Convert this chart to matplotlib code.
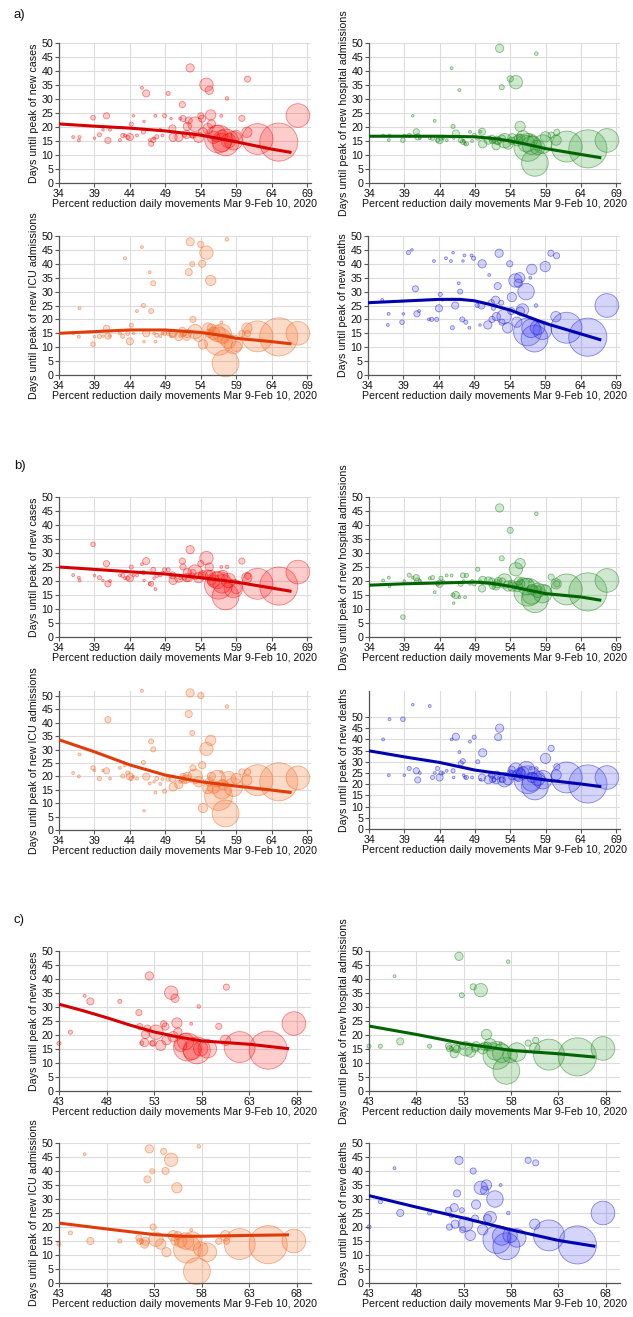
import numpy as np
import matplotlib
matplotlib.use("Agg")
import matplotlib.pyplot as plt

plt.rcParams['font.family'] = ['Liberation Sans', 'DejaVu Sans']

# ---------------- data (one entry per region) ----------------
region_x = [36.0, 36.8, 36.9, 38.8, 39.0, 39.7, 40.2, 40.7, 40.9, 41.2,
            42.6, 43.0, 43.3, 43.7, 44.0, 44.2, 44.5, 45.0, 45.7, 45.9,
            46.0, 46.3, 46.8, 47.0, 47.3, 47.6, 47.8, 48.3, 48.9, 49.4,
            49.8, 50.0, 50.1, 50.9, 51.1, 51.4, 51.5, 51.7, 52.0, 52.1,
            52.3, 52.5, 52.8, 52.9, 53.2, 53.7, 54.0, 54.2, 54.3, 54.8,
            55.0, 55.2, 55.4, 55.5, 55.8, 56.3, 56.5, 56.9, 57.5, 57.7,
            57.9, 58.6, 59.0, 59.8, 60.5, 60.6, 62.0, 65.0, 67.7, 57.0,
            57.1, 48.6, 47.4]
region_pop = [2, 2, 2, 5, 1.5, 4, 1.5, 9, 9, 2,
              2, 4, 2, 4, 12, 4, 1.5, 2, 2, 4,
              1.5, 12, 2, 6, 6, 2, 4, 2, 4, 4,
              1.5, 12, 16, 16, 2, 9, 9, 4, 16, 16,
              12, 16, 6, 9, 49, 25, 9, 12, 20, 42,
              25, 16, 25, 16, 36, 64, 182, 2, 169, 3,
              49, 81, 25, 9, 25, 9, 225, 342, 132, 81,
              25, 2, 1.5]
in_subset_c = [0, 0, 0, 0, 0, 0, 0, 0, 0, 0,
               0, 1, 0, 0, 0, 1, 0, 0, 1, 0,
               0, 1, 0, 0, 0, 0, 0, 0, 0, 1,
               0, 0, 0, 0, 0, 1, 1, 1, 1, 1,
               1, 1, 1, 1, 1, 1, 1, 1, 1, 1,
               1, 1, 1, 1, 1, 1, 1, 1, 1, 1,
               1, 1, 0, 1, 1, 1, 1, 1, 1, 1,
               0, 0, 0]

a_cases = [16.4, 15.2, 16.4, 23.3, 16, 17.2, 19, 24, 15.2, 19,
           15.3, 17, 17, 16.3, 16.4, 21, 24, 17, 34, 18.2,
           22, 32, 15.3, 14, 15.3, 24, 16.5, 19, 24, 32,
           23, 19.5, 16.3, 16.3, 23, 28, 23, 17.1, 17.3, 20.2,
           22.3, 41.1, 17, 17.1, 21, 16.3, 24, 23, 18.1, 35.1,
           19.4, 33.1, 24.3, 21.1, 16.3, 17.7, 15.7, 24, 14.5, 30.2,
           15.1, 15.1, 17, 23.1, 18.1, 37.1, 15.7, 14.6, 24.1, 14.5,
           17, 17, 16]
a_hosp = [17, 15.3, 17, 15.3, 17, 17, 24, 18.3, 16.5, 16,
          16, 16, 22.2, 15.3, 15.3, 16, 16, 15.3, 41, 20.2,
          16, 17.7, 33.2, 15.3, 14.7, 14, 14, 18.3, 17, 16,
          18.3, 18.3, 14, 15.3, 16, 16, 15.1, 15.1, 13.3, 15.3,
          15, 48.1, 34.2, 16, 15.1, 13.9, 37.2, 15.1, 16, 36,
          15.1, 16, 20.2, 16, 16.5, 14, 12.7, 17, 7.2, 46.2,
          12.7, 13.9, 16.5, 17.1, 15.3, 18.1, 13, 12.2, 15.2, 13.5,
          15, 15, 15]
a_icu = [15, 13.8, 24, 11.1, 13.8, 13.8, 14, 16.8, 14, 14,
         15, 13.9, 42, 15, 12.1, 17.9, 15, 23, 46, 25,
         12, 15, 37, 23, 33, 12, 14.3, 14, 15, 15,
         13.8, 15, 15, 13.8, 14, 16.1, 14.9, 14.9, 13.9, 14.9,
         37, 47.9, 39.9, 20, 15.6, 13.9, 47, 40, 11, 44,
         16.9, 15, 34, 16.9, 15, 15, 12.1, 18.9, 4.2, 48.8,
         12.1, 11, 10.3, 14.9, 16.9, 14.9, 13.9, 13.7, 15, 15,
         13, 15, 15]
a_deaths = [27, 18, 22, 19, 22, 44, 45, 31, 22, 23,
            20, 20, 41, 20, 24, 29, 27, 42, 41, 17,
            44, 25, 33, 30, 20, 43, 19, 17, 42, 25,
            18, 25, 40, 18, 36, 26, 20, 24, 26.9, 21,
            32, 43.8, 26, 19, 21, 17, 40, 23, 28, 34,
            19, 33, 35, 23, 23.4, 30, 15.5, 35, 13.1, 25,
            17, 16.1, 39, 43.8, 21, 42.9, 17, 13.6, 25, 16.8,
            38, 43, 41]
b_cases = [22.1, 21.2, 20.2, 33.1, 22, 21.2, 20.2, 26.2, 19, 20,
           22, 22, 21, 21, 21, 25, 22, 22, 26, 23,
           20.2, 27.1, 19, 19, 24, 17.1, 22, 22, 24, 24,
           22, 22, 20.2, 21, 21, 27.1, 25, 21, 21.2, 23,
           21, 31.2, 22, 23, 23.2, 21.2, 26.2, 22, 22.1, 28.2,
           22.1, 25, 22, 20, 20, 20.2, 18.5, 25, 14.5, 25,
           20.2, 17.3, 17.3, 27.1, 21.2, 21.7, 19, 18.2, 23.2, 19,
           22, 23, 21]
b_hosp = [20.2, 21.2, 18.2, 7.1, 20, 22.1, 21.2, 21.2, 20, 20,
          21, 21.2, 16, 19, 19, 21, 20, 22, 22, 15,
          12.1, 15, 14.2, 19, 22, 14.2, 22, 19, 19, 24.2,
          20, 17.3, 20.2, 20, 19, 20, 18.2, 19, 18.2, 19,
          20, 46.1, 28.1, 20, 20, 18.2, 38.1, 19, 18, 24.2,
          18, 20, 26.2, 19, 19, 18, 16, 20, 13.5, 44,
          16.7, 15.5, 16.7, 21.4, 19, 19, 17, 16.1, 20.2, 15,
          17, 20, 20]
b_icu = [21.3, 20, 28.2, 23.2, 22.2, 19.2, 22.2, 22.1, 41.2, 19.2,
         23.2, 20.1, 24.2, 21.3, 20, 19.2, 20, 19.2, 52, 25.2,
         7.2, 19.9, 17.4, 33.1, 30.1, 14, 19.2, 17.2, 14.5, 19,
         20, 19.2, 16.1, 17, 18, 19, 20, 18, 19, 20,
         43.3, 51.2, 36.2, 23.2, 20, 18, 50.2, 24.2, 8.2, 30.3,
         15.5, 18, 33.5, 20, 16, 19.2, 12.5, 21.7, 6.2, 46.1,
         19.2, 16, 19.2, 21.7, 18.6, 21.7, 18.6, 18, 19.5, 15,
         17, 19, 18]
b_deaths = [40, 24, 49, 49, 24, 27, 55.5, 26, 21.9, 25,
            54.9, 23, 25, 27, 23, 25, 25, 26, 40, 26,
            23, 41.2, 34.3, 29.3, 30.3, 23, 23, 39, 41, 30,
            22, 23, 34, 22, 24, 24, 22, 22, 22, 24,
            41, 45, 22, 22, 22, 22, 25, 26.5, 24, 26.5,
            24, 23, 25, 25, 25, 26.5, 22, 27, 19, 27,
            22.6, 22, 31.5, 36, 24.1, 27.8, 23, 20.1, 23, 21,
            23, 23, 24]

# fitted curves (x knots, y knots)
fit_a_cases = ([34, 39, 44, 49, 54, 59, 64, 66.8], [21.1, 20.3, 19.6, 18.6, 17.1, 14.7, 12.1, 10.9])
fit_a_hosp = ([34, 39, 44, 49, 52, 54, 56, 59, 64, 66.9], [16.7, 16.7, 16.7, 16.5, 15.8, 15.0, 14.0, 12.3, 10.2, 9.0])
fit_a_icu = ([34, 39, 44, 49, 54, 57, 59, 64, 66.8], [15.0, 15.6, 16.2, 16.2, 15.3, 14.2, 13.2, 12.0, 11.2])
fit_a_deaths = ([34, 39, 44, 47, 49, 51, 54, 59, 64, 66.9], [26.0, 26.6, 27.2, 27.2, 26.7, 25.5, 23.4, 18.6, 14.8, 12.6])
fit_b_cases = ([34, 44, 49, 54, 59, 64, 66.8], [25.0, 23.3, 22.5, 21.2, 19.6, 17.5, 16.3])
fit_b_hosp = ([34, 39, 44, 49, 51, 54, 59, 64, 66.9], [18.5, 19.0, 19.3, 19.6, 19.3, 18.1, 15.5, 14.3, 13.1])
fit_b_icu = ([34, 39, 44, 49, 54, 59, 64, 66.8], [33.7, 29.2, 24.3, 20.5, 18.0, 16.4, 14.9, 14.0])
fit_b_deaths = ([34, 39, 44, 49, 54, 59, 64, 66.9], [34.9, 32.2, 29.7, 26.3, 24.1, 21.9, 20.1, 18.9])
fit_c_cases = ([43, 45.5, 48, 50.5, 53, 55.5, 58, 63, 67.2], [31.0, 28.7, 26.2, 23.5, 21.1, 19.3, 17.9, 16.7, 15.1])
fit_c_hosp = ([43, 48, 53, 58, 63, 66.9], [23.2, 20.2, 16.9, 14.5, 13.3, 12.1])
fit_c_icu = ([43, 48, 53, 56, 58, 63, 67.2], [21.4, 19.3, 17.3, 16.7, 16.7, 17.0, 17.2])
fit_c_deaths = ([43, 48, 53, 58, 63, 66.9], [31.2, 27.1, 23.2, 19.0, 15.2, 13.1])

XLABEL = "Percent reduction daily movements Mar 9-Feb 10, 2020"
YLABELS = {
    'cases': "Days until peak of new cases",
    'hosp': "Days until peak of new hospital admissions",
    'icu': "Days until peak of new ICU admissions",
    'deaths': "Days until peak of new deaths",
}
STYLE = {
    'cases': dict(face=(1.0, 0.1, 0.1, 0.22), edge=(0.95, 0.0, 0.0, 0.45), line='#d60000'),
    'hosp': dict(face=(0.25, 0.65, 0.25, 0.25), edge=(0.1, 0.5, 0.1, 0.5), line='#006400'),
    'icu': dict(face=(0.98, 0.5, 0.25, 0.28), edge=(0.95, 0.4, 0.15, 0.5), line='#e03c0a'),
    'deaths': dict(face=(0.25, 0.25, 0.95, 0.22), edge=(0.1, 0.1, 0.85, 0.5), line='#0000b0'),
}

W, H = 633, 1317
fig = plt.figure(figsize=(W / 100, H / 100), dpi=100)

def add_ax(l, r, top, bot):
    return fig.add_axes([l / W, 1 - bot / H, (r - l) / W, (bot - top) / H])

X = np.array(region_x)
P = np.array(region_pop)
C = np.array(in_subset_c, dtype=bool)
SIZE_K = 2.2  # pt^2 per px^2 at 100 dpi

panels = [
    # left, right, top, bottom, subset, ytop, kind, yvalues, fit
    (59, 311, 43, 183, 'ab', 50, 'cases', a_cases, fit_a_cases),
    (369, 620, 43, 183, 'ab', 50, 'hosp', a_hosp, fit_a_hosp),
    (59, 311, 236, 375, 'ab', 50, 'icu', a_icu, fit_a_icu),
    (368, 620, 236, 375, 'ab', 50, 'deaths', a_deaths, fit_a_deaths),
    (59, 311, 497, 637, 'ab', 50, 'cases', b_cases, fit_b_cases),
    (369, 620, 497, 637, 'ab', 50, 'hosp', b_hosp, fit_b_hosp),
    (59, 311, 691, 830, 'ab', 51.9, 'icu', b_icu, fit_b_icu),
    (369, 620, 691, 829, 'ab', 61.6, 'deaths', b_deaths, fit_b_deaths),
    (59, 311, 951, 1091, 'c', 50, 'cases', a_cases, fit_c_cases),
    (369, 620, 951, 1091, 'c', 50, 'hosp', a_hosp, fit_c_hosp),
    (59, 311, 1143, 1283, 'c', 50, 'icu', a_icu, fit_c_icu),
    (369, 620, 1143, 1283, 'c', 50, 'deaths', a_deaths, fit_c_deaths),
]

FS = 7.65
for (l, r, t, b, sub, ytop, kind, yv, fit) in panels:
    ax = add_ax(l, r, t, b)
    st = STYLE[kind]
    Y = np.array(yv)
    if sub == 'c':
        m = C
        xlim = (43, 69.5)
        xt = np.arange(43, 69, 5)
    else:
        m = np.ones(len(X), dtype=bool)
        xlim = (34, 69.55)
        xt = np.arange(34, 70, 5)
    order = np.argsort(-P[m])
    ax.scatter(X[m][order], Y[m][order], s=P[m][order] * SIZE_K,
               facecolor=st['face'], edgecolor=st['edge'], linewidth=0.6,
               zorder=2, clip_on=False)
    ax.plot(fit[0], fit[1], color=st['line'], lw=2.2, zorder=3,
            solid_capstyle='butt')
    ax.set_xlim(*xlim)
    ax.set_ylim(0, ytop)
    ax.set_xticks(xt)
    ax.set_yticks(np.arange(0, 51, 5))
    ax.grid(True, color='#dcdcdc', lw=0.8, zorder=0)
    ax.set_axisbelow(True)
    for s in ('top', 'right'):
        ax.spines[s].set_visible(False)
    for s in ('left', 'bottom'):
        ax.spines[s].set_color('#555555')
        ax.spines[s].set_linewidth(0.9)
    ax.tick_params(direction='out', length=3, width=0.8, color='#555555',
                   labelsize=FS, pad=1, labelcolor='#111111')
    ax.set_xlabel(XLABEL, fontsize=FS, labelpad=0, color='#111111')
    ax.set_ylabel(YLABELS[kind], fontsize=FS, labelpad=2, color='#111111')

fig.text(14 / W, 1 - 18 / H, "a)", fontsize=9.5, color='#111111')
fig.text(14 / W, 1 - 469 / H, "b)", fontsize=9.5, color='#111111')
fig.text(14 / W, 1 - 923 / H, "c)", fontsize=9.5, color='#111111')

fig.savefig("out.png", dpi=100)
